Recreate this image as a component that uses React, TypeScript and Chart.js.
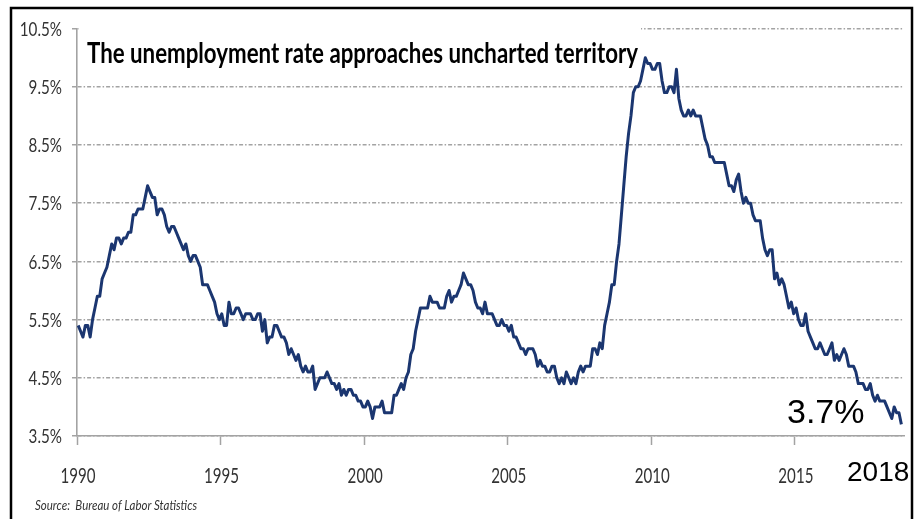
import React, { useEffect, useRef } from "react";
import { Chart, registerables } from "chart.js";

Chart.register(...registerables);

// Monthly unemployment rate (%), seasonally adjusted, BLS
const RATES_1990S = [
  5.4, 5.3, 5.2, 5.4, 5.4, 5.2, 5.5, 5.7, 5.9, 5.9, 6.2, 6.3,
  6.4, 6.6, 6.8, 6.7, 6.9, 6.9, 6.8, 6.9, 6.9, 7.0, 7.0, 7.3,
  7.3, 7.4, 7.4, 7.4, 7.6, 7.8, 7.7, 7.6, 7.6, 7.3, 7.4, 7.4,
  7.3, 7.1, 7.0, 7.1, 7.1, 7.0, 6.9, 6.8, 6.7, 6.8, 6.6, 6.5,
  6.6, 6.6, 6.5, 6.4, 6.1, 6.1, 6.1, 6.0, 5.9, 5.8, 5.6, 5.5,
  5.6, 5.4, 5.4, 5.8, 5.6, 5.6, 5.7, 5.7, 5.6, 5.5, 5.6, 5.6,
  5.6, 5.5, 5.5, 5.6, 5.6, 5.3, 5.5, 5.1, 5.2, 5.2, 5.4, 5.4,
  5.3, 5.2, 5.2, 5.1, 4.9, 5.0, 4.9, 4.8, 4.9, 4.7, 4.6, 4.7,
  4.6, 4.6, 4.7, 4.3, 4.4, 4.5, 4.5, 4.5, 4.6, 4.5, 4.4, 4.4,
  4.3, 4.4, 4.2, 4.3, 4.2, 4.3, 4.3, 4.2, 4.2, 4.1, 4.1, 4.0,
];
const RATES_2000S = [
  4.0, 4.1, 4.0, 3.8, 4.0, 4.0, 4.0, 4.1, 3.9, 3.9, 3.9, 3.9,
  4.2, 4.2, 4.3, 4.4, 4.3, 4.5, 4.6, 4.9, 5.0, 5.3, 5.5, 5.7,
  5.7, 5.7, 5.7, 5.9, 5.8, 5.8, 5.8, 5.7, 5.7, 5.7, 5.9, 6.0,
  5.8, 5.9, 5.9, 6.0, 6.1, 6.3, 6.2, 6.1, 6.1, 6.0, 5.8, 5.7,
  5.7, 5.6, 5.8, 5.6, 5.6, 5.6, 5.5, 5.4, 5.4, 5.5, 5.4, 5.4,
  5.3, 5.4, 5.2, 5.2, 5.1, 5.0, 5.0, 4.9, 5.0, 5.0, 5.0, 4.9,
  4.7, 4.8, 4.7, 4.7, 4.6, 4.6, 4.7, 4.7, 4.5, 4.4, 4.5, 4.4,
  4.6, 4.5, 4.4, 4.5, 4.4, 4.6, 4.7, 4.6, 4.7, 4.7, 4.7, 5.0,
  5.0, 4.9, 5.1, 5.0, 5.4, 5.6, 5.8, 6.1, 6.1, 6.5, 6.8, 7.3,
  7.8, 8.3, 8.7, 9.0, 9.4, 9.5, 9.5, 9.6, 9.8, 10.0, 9.9, 9.9,
];
const RATES_2010S = [
  9.8, 9.8, 9.9, 9.9, 9.6, 9.4, 9.4, 9.5, 9.5, 9.4, 9.8, 9.3,
  9.1, 9.0, 9.0, 9.1, 9.0, 9.1, 9.0, 9.0, 9.0, 8.8, 8.6, 8.5,
  8.3, 8.3, 8.2, 8.2, 8.2, 8.2, 8.2, 8.0, 7.8, 7.8, 7.7, 7.9,
  8.0, 7.7, 7.5, 7.6, 7.5, 7.5, 7.3, 7.2, 7.2, 7.2, 6.9, 6.7,
  6.6, 6.7, 6.7, 6.2, 6.3, 6.1, 6.2, 6.1, 5.9, 5.7, 5.8, 5.6,
  5.7, 5.5, 5.4, 5.4, 5.6, 5.3, 5.2, 5.1, 5.0, 5.0, 5.1, 5.0,
  4.9, 4.9, 5.0, 5.1, 4.8, 4.9, 4.8, 4.9, 5.0, 4.9, 4.7, 4.7,
  4.7, 4.6, 4.4, 4.4, 4.4, 4.3, 4.3, 4.4, 4.2, 4.1, 4.2, 4.1,
  4.1, 4.1, 4.0, 3.9, 3.8, 4.0, 3.9, 3.9, 3.7,
];
const START_YEAR = 1990;
const X_TICKS = [1990, 1995, 2000, 2005, 2010, 2015];
const Y_TICKS = [3.5, 4.5, 5.5, 6.5, 7.5, 8.5, 9.5, 10.5];
const TITLE = "The unemployment rate approaches uncharted territory";
const SOURCE = "Source:  Bureau of Labor Statistics";
const LAST_YEAR_LABEL = "2018";

const GRID = "#a3a3a3";
const LINE = "#1b3670";

function narrowText(
  ctx: CanvasRenderingContext2D,
  text: string,
  x: number,
  y: number,
  font: string,
  color: string,
  align: "left" | "right" | "center",
  sx: number,
  baseline: CanvasTextBaseline = "alphabetic",
  fitWidth?: number
) {
  ctx.save();
  ctx.font = font;
  ctx.fillStyle = color;
  ctx.textBaseline = baseline;
  ctx.textAlign = "left";
  const raw = ctx.measureText(text).width;
  const s = fitWidth ? fitWidth / raw : sx;
  const w = raw * s;
  const left = align === "right" ? x - w : align === "center" ? x - w / 2 : x;
  ctx.translate(left, y);
  ctx.scale(s, 1);
  ctx.fillText(text, 0, 0);
  ctx.restore();
}

export default function App() {
  const ref = useRef<HTMLCanvasElement | null>(null);

  useEffect(() => {
    const canvas = ref.current;
    if (!canvas) return;
    const all = [...RATES_1990S, ...RATES_2000S, ...RATES_2010S];
    const points = all.map((v, i) => ({ x: START_YEAR + (i + 0.5) / 12, y: v }));
    const lastVal = all[all.length - 1];

    const deco = {
      id: "deco",
      beforeDraw(chart: any) {
        const c = chart.ctx;
        c.save();
        c.fillStyle = "#fff";
        c.fillRect(0, 0, chart.width, chart.height);
        c.restore();
      },
      beforeDatasetsDraw(chart: any) {
        const c = chart.ctx;
        const area = chart.chartArea;
        c.save();
        c.fillStyle = "#fff";
        c.fillRect(area.left + 1.5, area.top - 6, 641 - area.left - 1.5, 12);
        c.restore();
        narrowText(c, TITLE, 87, 63, "bold 29px Lato", "#000", "left", 1, "alphabetic", 551);
      },
      afterDraw(chart: any) {
        const c = chart.ctx;
        const xs = chart.scales.x;
        const ys = chart.scales.y;
        ys.ticks.forEach((t: any) => {
          const py = ys.getPixelForValue(t.value);
          narrowText(c, t.value.toFixed(1) + "%", 62, py + 1, "19px Lato", "#333", "right", 0.8, "middle");
        });
        xs.ticks.forEach((t: any) => {
          const px = xs.getPixelForValue(t.value);
          narrowText(c, String(t.value), px + 1, 476, "21px Lato", "#333", "center", 0.72, "middle");
        });
        // annotations
        c.save();
        c.fillStyle = "#000";
        c.textBaseline = "alphabetic";
        c.textAlign = "left";
        c.font = "34px 'Liberation Sans', Arial, sans-serif";
        c.fillText(lastVal.toFixed(1) + "%", 787, 423);
        c.font = "28px 'Liberation Sans', Arial, sans-serif";
        c.fillText(LAST_YEAR_LABEL, 847, 481);
        c.restore();
        narrowText(c, SOURCE, 35, 510, "italic 13px Lato", "#333", "left", 1, "alphabetic", 162);
        // frame
        c.save();
        c.strokeStyle = "#000";
        c.lineWidth = 2.5;
        c.strokeRect(11, 8, 901, 600);
        c.restore();
      },
    };

    const chart = new Chart(canvas, {
      type: "line",
      data: {
        datasets: [
          {
            data: points,
            borderColor: LINE,
            borderWidth: 3,
            pointRadius: 0,
            tension: 0,
            fill: false,
            borderJoinStyle: "round",
          },
        ],
      },
      options: {
        animation: false,
        responsive: false,
        devicePixelRatio: 1,
        parsing: false as any,
        layout: { padding: { left: 0, right: 12, top: 28.6, bottom: 0 } },
        plugins: {
          legend: { display: false },
          title: { display: false },
          tooltip: { enabled: false },
        },
        scales: {
          x: {
            type: "linear",
            min: 1990,
            max: 2018.8,
            afterBuildTicks: (s: any) => {
              s.ticks = X_TICKS.map((v) => ({ value: v }));
            },
            afterFit: (s: any) => {
              s.height = 83;
            },
            ticks: { display: false },
            grid: {
              drawOnChartArea: false,
              drawTicks: true,
              tickLength: 9,
              tickColor: GRID,
              tickWidth: 1.5,
              color: GRID,
            },
            border: { display: true, color: GRID, width: 1.6 },
          },
          y: {
            type: "linear",
            min: 3.5,
            max: 10.5,
            afterBuildTicks: (s: any) => {
              s.ticks = Y_TICKS.map((v) => ({ value: v }));
            },
            afterFit: (s: any) => {
              s.width = 77;
            },
            ticks: { display: false },
            grid: {
              drawOnChartArea: true,
              drawTicks: true,
              tickLength: 5,
              tickColor: GRID,
              tickWidth: 1.5,
              color: GRID,
              lineWidth: 1.5,
            },
            border: { display: true, color: GRID, width: 1.6, dash: [4, 2, 1.5, 2] },
          },
        },
      } as any,
      plugins: [deco],
    });
    return () => chart.destroy();
  }, []);

  return (
    <div style={{ position: "fixed", left: 0, top: 0, width: 916, height: 519, background: "#fff" }}>
      <canvas ref={ref} width={916} height={519} style={{ display: "block", width: 916, height: 519 }} />
    </div>
  );
}
